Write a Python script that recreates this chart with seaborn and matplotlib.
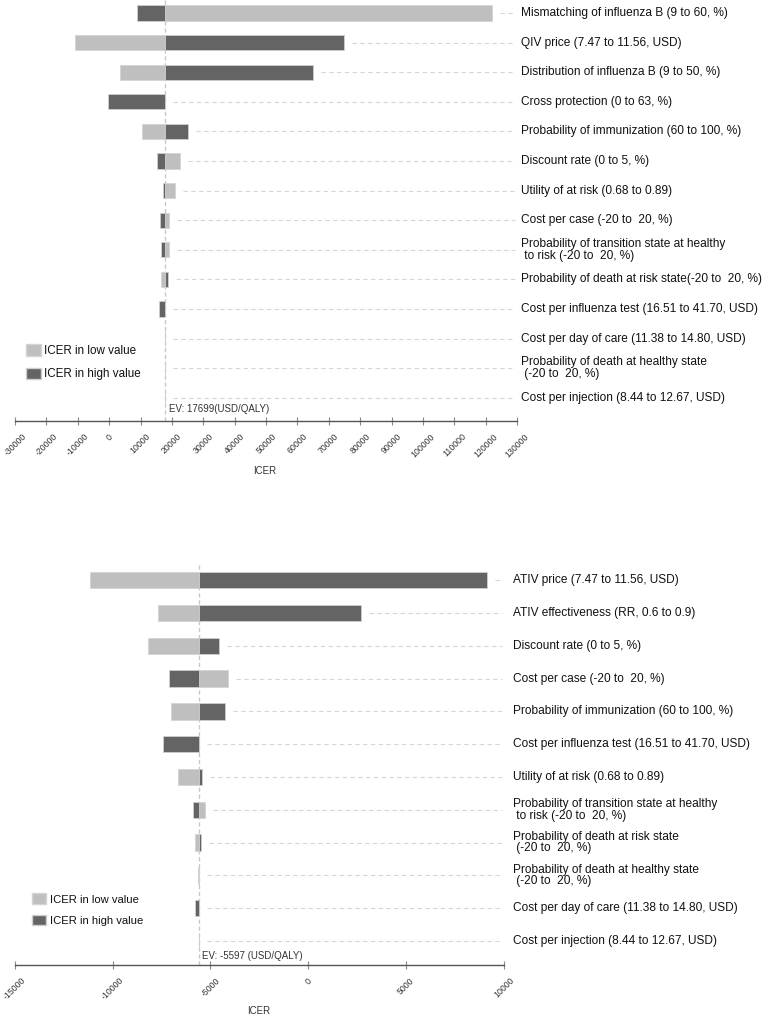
import numpy as np
import pandas as pd
import matplotlib
matplotlib.use("Agg")
import matplotlib.pyplot as plt
import matplotlib.transforms as mtransforms
from matplotlib.patches import Patch
import seaborn as sns

sns.set_theme(style="white")
plt.rcParams["font.family"] = ["Liberation Sans", "DejaVu Sans"]
plt.rcParams["axes.unicode_minus"] = False

# ---------------- data: top panel (QIV) ----------------
top_params = [
    "Mismatching of influenza B (9 to 60, %)",
    "QIV price (7.47 to 11.56, USD)",
    "Distribution of influenza B (9 to 50, %)",
    "Cross protection (0 to 63, %)",
    "Probability of immunization (60 to 100, %)",
    "Discount rate (0 to 5, %)",
    "Utility of at risk (0.68 to 0.89)",
    "Cost per case (-20 to  20, %)",
    "Probability of transition state at healthy\n to risk (-20 to  20, %)",
    "Probability of death at risk state(-20 to  20, %)",
    "Cost per influenza test (16.51 to 41.70, USD)",
    "Cost per day of care (11.38 to 14.80, USD)",
    "Probability of death at healthy state\n (-20 to  20, %)",
    "Cost per injection (8.44 to 12.67, USD)",
]
top_ev = 17699
top_low = [122000, -11000, 3500, 17699, 10500, 22500, 20900, 19200, 19200, 16500,
           17699, 17699, 17699, 17699]
top_high = [8800, 75000, 65000, -400, 25000, 15300, 17300, 16100, 16400, 18900,
            15800, 17699, 17699, 17699]
top_ticks = [-30000, -20000, -10000, 0, 10000, 20000, 30000, 40000, 50000, 60000,
             70000, 80000, 90000, 100000, 110000, 120000, 130000]

# ---------------- data: bottom panel (ATIV) ----------------
bot_params = [
    "ATIV price (7.47 to 11.56, USD)",
    "ATIV effectiveness (RR, 0.6 to 0.9)",
    "Discount rate (0 to 5, %)",
    "Cost per case (-20 to  20, %)",
    "Probability of immunization (60 to 100, %)",
    "Cost per influenza test (16.51 to 41.70, USD)",
    "Utility of at risk (0.68 to 0.89)",
    "Probability of transition state at healthy\n to risk (-20 to  20, %)",
    "Probability of death at risk state\n (-20 to  20, %)",
    "Probability of death at healthy state\n (-20 to  20, %)",
    "Cost per day of care (11.38 to 14.80, USD)",
    "Cost per injection (8.44 to 12.67, USD)",
]
bot_ev = -5597
bot_low = [-11150, -7690, -8200, -4110, -7030, -5597, -6630, -5290, -5760, -5650,
           -5597, -5597]
bot_high = [9150, 2690, -4540, -7130, -4230, -7410, -5420, -5880, -5490, -5560,
            -5760, -5597]
bot_ticks = [-15000, -10000, -5000, 0, 5000, 10000]

legend_labels = ["ICER in low value", "ICER in high value"]
LIGHT = "#bfbfbf"
DARK = "#646464"

W, H = 772, 1016
fig = plt.figure(figsize=(W / 100, H / 100), dpi=100)


def px_axes(left, right, top, bottom):
    return fig.add_axes([left / W, 1 - bottom / H, (right - left) / W, (bottom - top) / H])


def tornado(ax, params, low, high, ev, ticks, ylim, bar_h, label_x, ev_text,
            ev_off, legend_anchor, legend_size):
    df = pd.DataFrame({"param": params, "low": low, "high": high})
    df["d_low"] = df["low"] - ev
    df["d_high"] = df["high"] - ev
    sns.barplot(data=df, x="d_low", y="param", orient="y", color=LIGHT, left=ev,
                width=bar_h, edgecolor="#d4d4d4", linewidth=0.6, ax=ax, zorder=3)
    sns.barplot(data=df, x="d_high", y="param", orient="y", color=DARK, left=ev,
                width=bar_h, edgecolor="#cfcfcf", linewidth=0.6, ax=ax, zorder=3)
    ax.set_xlim(ticks[0], ticks[-1])
    ax.set_ylim(*ylim)
    x0, x1 = ticks[0], ticks[-1]
    bbox = ax.get_position()
    ppu = bbox.width * W / (x1 - x0)
    gap = 8 / ppu
    for i, (lo, hi) in enumerate(zip(low, high)):
        start = max(ev, lo, hi) + gap
        ax.hlines(i, start, x1 - 2 / ppu, colors="#d6d6d6", linewidth=0.8,
                  linestyles=(0, (4, 3)), zorder=1)
    ax.axvline(ev, color="#c8c8c8", linewidth=1.0, linestyle=(0, (3, 2)), zorder=2)
    trans = mtransforms.blended_transform_factory(ax.transAxes, ax.transData)
    for i, p in enumerate(params):
        ax.text(label_x, i, p, transform=trans, ha="left", va="center",
                fontsize=8.6, color="#111111", linespacing=0.95, clip_on=False)
    ax.annotate(ev_text, xy=(ev, 0), xycoords=("data", "axes fraction"),
                xytext=ev_off, textcoords="offset points", ha="left", va="center",
                fontsize=7, color="#333333")
    ax.set_xticks(ticks)
    ax.set_xticklabels([str(t) for t in ticks], rotation=45, ha="center", va="top")
    ax.tick_params(axis="x", direction="inout", length=6, width=0.8, color="#888888",
                   labelsize=6.3, labelcolor="#333333", pad=5.0, bottom=True)
    ax.tick_params(axis="y", left=False, labelleft=False)
    ax.set_ylabel("")
    ax.set_xlabel("")
    for s in ["top", "right", "left"]:
        ax.spines[s].set_visible(False)
    ax.spines["bottom"].set_color("#555555")
    ax.spines["bottom"].set_linewidth(1.0)
    ax.set_facecolor("none")
    handles = [Patch(facecolor=LIGHT, edgecolor="#d4d4d4"),
               Patch(facecolor=DARK, edgecolor="#cfcfcf")]
    ax.legend(handles, legend_labels, loc="upper left",
              bbox_to_anchor=(legend_anchor[0] / W, 1 - legend_anchor[1] / H),
              bbox_transform=fig.transFigure, frameon=False, fontsize=legend_size,
              handlelength=1.3, handleheight=1.1, handletextpad=0.3,
              labelspacing=0.9, borderpad=0, borderaxespad=0,
              labelcolor="#111111")


ax1 = px_axes(15, 517, 0, 421)
tornado(ax1, top_params, top_low, top_high, top_ev, top_ticks,
        ylim=((421 - 13) / 29.6, -13 / 29.6), bar_h=0.52, label_x=1.008,
        ev_text=f"EV: {top_ev}(USD/QALY)", ev_off=(3.4, 8.6),
        legend_anchor=(25.7, 344.5), legend_size=8.4)
fig.text(264.3 / W, 1 - 471 / H, "ICER", ha="center", va="center", fontsize=7,
         color="#333333")

ax2 = px_axes(14.7, 503.7, 565, 965)
tornado(ax2, bot_params, bot_low, bot_high, bot_ev, bot_ticks,
        ylim=((965 - 580.3) / 32.8, (565 - 580.3) / 32.8), bar_h=0.5,
        label_x=1.0184, ev_text=f"EV: {bot_ev} (USD/QALY)", ev_off=(2.7, 6.4),
        legend_anchor=(31.7, 893.3), legend_size=8.1)
fig.text(258.3 / W, 1 - 1011 / H, "ICER", ha="center", va="center", fontsize=7,
         color="#333333")

fig.savefig("out.png", dpi=100)
